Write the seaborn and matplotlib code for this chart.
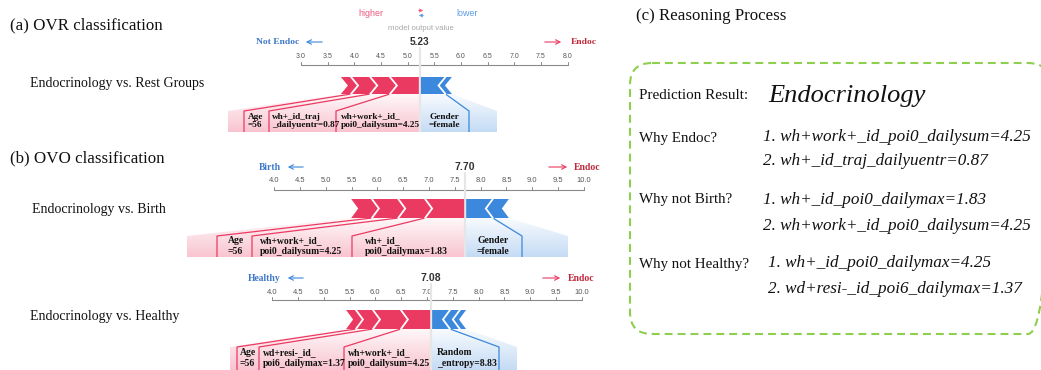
import numpy as np
import matplotlib
matplotlib.use("Agg")
import matplotlib.pyplot as plt
from matplotlib.patches import Polygon, FancyBboxPatch
import seaborn as sns

sns.set_theme(style="white")
SERIF = ["Liberation Serif", "DejaVu Serif"]
SANS = ["Liberation Sans", "DejaVu Sans"]
plt.rcParams["font.family"] = SERIF

# ---------------- force-plot data ----------------
ovr_ticks = [3.0, 3.5, 4.0, 4.5, 5.0, 5.5, 6.0, 6.5, 7.0, 7.5, 8.0]
ovr_output = 5.23
ovr_pos_values = [0.43, 0.37, 0.36, 0.19]
ovr_pos_labels = ["wh+work+_id_\npoi0_dailysum=4.25", "wh+_id_traj\n_dailyuentr=0.87", "Age\n=56", ""]
ovr_neg_values = [0.35, 0.12]
ovr_neg_labels = ["Gender\n=female", ""]

ovo_ticks = [4.0, 4.5, 5.0, 5.5, 6.0, 6.5, 7.0, 7.5, 8.0, 8.5, 9.0, 9.5, 10.0]

birth_output = 7.70
birth_pos_values = [0.64, 0.52, 0.51, 0.40]
birth_pos_labels = ["wh+_id_\npoi0_dailymax=1.83", "wh+work+_id_\npoi0_dailysum=4.25", "Age\n=56", ""]
birth_neg_values = [0.40, 0.31]
birth_neg_labels = ["Gender\n=female", ""]

healthy_output = 7.08
healthy_pos_values = [0.45, 0.54, 0.33, 0.19]
healthy_pos_labels = ["wh+work+_id_\npoi0_dailysum=4.25", "wd+resi-_id_\npoi6_dailymax=1.37", "Age\n=56", ""]
healthy_neg_values = [0.23, 0.19, 0.12]
healthy_neg_labels = ["Random\n_entropy=8.83", "", ""]

# ---------------- reasoning panel text ----------------
prediction = "Endocrinology"
questions = ["Why Endoc?", "Why not Birth?", "Why not Healthy?"]
answers = [
    ["1. wh+work+_id_poi0_dailysum=4.25", "2. wh+_id_traj_dailyuentr=0.87"],
    ["1. wh+_id_poi0_dailymax=1.83", "2. wh+work+_id_poi0_dailysum=4.25"],
    ["1. wh+_id_poi0_dailymax=4.25", "2. wd+resi-_id_poi6_dailymax=1.37"],
]

RED = "#EB3A62"
BLUE = "#3B88DD"
NAME_RED = "#C0283A"
NAME_BLUE = "#3E78C8"

W, H = 1041, 370
fig = plt.figure(figsize=(W / 100, H / 100), dpi=100)

# background canvas in pixel units
bg = fig.add_axes([0, 0, 1, 1])
bg.set_xlim(0, W)
bg.set_ylim(H, 0)
bg.axis("off")


def force_plot(ticks, output, pos_vals, pos_labels, neg_vals, neg_labels, lay):
    top, bottom = lay["rows"]
    L, R = 180, 610
    ax = fig.add_axes([L / W, 1 - bottom / H, (R - L) / W, (bottom - top) / H])
    ax.axis("off")
    p0, p1 = lay["tick_px"]
    ppu = (p1 - p0) / (ticks[-1] - ticks[0])

    def xv(px):
        return ticks[0] + (px - p0) / ppu

    d = 7 / ppu
    gap = 1 / ppu
    btop, bbot = lay["bar"]
    mid = (btop + bbot) / 2
    fs_lab = lay["label_fs"]

    # axis with ticks
    ax.plot([ticks[0], ticks[-1]], [lay["axis_y"]] * 2, color="#8a8a8a", lw=0.8, zorder=2)
    for t in ticks:
        ax.plot([t, t], [lay["axis_y"], lay["axis_y"] - 3], color="#8a8a8a", lw=0.7, zorder=2)
        ax.text(t, lay["tick_y"], f"{t:.1f}", ha="center", va="center", fontsize=lay["tick_fs"],
                color="#555555", family=SANS, zorder=3)

    # output value marker
    ax.plot([output, output], [lay["value_y"] + 6, bottom], color="#e6e6e6", lw=1.6, zorder=4)
    ax.text(output, lay["value_y"], f"{output:.2f}", ha="center", va="center", fontsize=lay["value_fs"],
            fontweight="bold", family=SANS, color="#333333", zorder=5)

    # class names with direction arrows
    ax.text(xv(lay["left_name_px"]), lay["value_y"], lay["left_name"], ha="right", va="center",
            fontsize=lay["name_fs"], fontweight="bold", color=NAME_BLUE, family=SERIF)
    la, lb = lay["left_arrow"]
    ax.annotate("", xy=(xv(la), lay["value_y"]), xytext=(xv(lb), lay["value_y"]),
                arrowprops=dict(arrowstyle="->", color=BLUE, lw=0.8, mutation_scale=8))
    ra, rb = lay["right_arrow"]
    ax.annotate("", xy=(xv(rb), lay["value_y"]), xytext=(xv(ra), lay["value_y"]),
                arrowprops=dict(arrowstyle="->", color=RED, lw=0.8, mutation_scale=8))
    ax.text(xv(lay["right_name_px"]), lay["value_y"], "Endoc", ha="left", va="center",
            fontsize=lay["name_fs"], fontweight="bold", color=NAME_RED, family=SERIF)

    # positive (red) segments, stacked leftwards from the output value
    b = [output] + list(output - np.cumsum(pos_vals))
    # negative (blue) segments, stacked rightwards
    c = [output] + list(output + np.cumsum(neg_vals))

    # gradient shading below the bars
    def shade(poly_pts, color, x0, x1):
        rgb = matplotlib.colors.to_rgb(color)
        n = 64
        img = np.zeros((n, 2, 4))
        img[..., :3] = rgb
        img[..., 3] = np.linspace(0.04, 0.30, n)[:, None]
        patch = Polygon(poly_pts, closed=True, facecolor="none", edgecolor="none")
        ax.add_patch(patch)
        im = ax.imshow(img, extent=(x0, x1, bottom, bbot), origin="upper", aspect="auto",
                       interpolation="bilinear", zorder=1)
        im.set_clip_path(patch)

    lt = lay["label_top"]
    sl, sr = lay["shade"]
    shade([(b[-1] - d, bbot), (output, bbot), (output, bottom), (xv(sl), bottom), (xv(sl), lt)],
          RED, xv(sl), output)
    shade([(output, bbot), (c[-1] + d, bbot), (xv(sr), lt), (xv(sr), bottom), (output, bottom)],
          BLUE, output, xv(sr))

    for i in range(len(pos_vals)):
        xr, xl = b[i], b[i + 1]
        if i == 0:
            right = [(xr - gap, btop), (xr - gap, bbot)]
        else:
            right = [(xr - d, btop), (xr, mid), (xr - d, bbot)]
        pts = [(xl - d, btop)] + right + [(xl - d, bbot), (xl, mid)]
        ax.add_patch(Polygon(pts, closed=True, facecolor=RED, edgecolor="none", zorder=5))
        if i > 0:
            ax.plot([xr - d, xr, xr - d], [btop, mid, bbot], color="white", lw=1.3, zorder=6,
                    solid_joinstyle="miter")

    for j in range(len(neg_vals)):
        xl, xr = c[j], c[j + 1]
        if j == 0:
            left = [(xl + gap, bbot), (xl + gap, btop)]
        else:
            left = [(xl + d, bbot), (xl, mid), (xl + d, btop)]
        pts = left + [(xr + d, btop), (xr, mid), (xr + d, bbot)]
        ax.add_patch(Polygon(pts, closed=True, facecolor=BLUE, edgecolor="none", zorder=5))
        if j > 0:
            ax.plot([xl + d, xl, xl + d], [btop, mid, bbot], color="white", lw=1.3, zorder=6,
                    solid_joinstyle="miter")

    # feature labels with connectors
    for i, lab in enumerate(pos_labels):
        if not lab:
            continue
        lx = xv(lay["pos_line_px"][i])
        ax.plot([b[i + 1] - d, lx, lx], [bbot, lt, bottom + 5], color=RED, lw=0.9, zorder=3)
        ax.text(xv(lay["pos_text_px"][i]), lay["text_y"], lab, ha="left", va="center",
                fontsize=fs_lab, fontweight="bold", color="#111111", family=SERIF,
                linespacing=1.15, zorder=7)
    for j, lab in enumerate(neg_labels):
        if not lab:
            continue
        lx = xv(lay["neg_line_px"][j])
        ax.plot([c[j + 1] + d, lx, lx], [bbot, lt, bottom + 5], color=BLUE, lw=0.9, zorder=3)
        ax.text(xv(lay["neg_text_px"][j]), lay["text_y"], lab, ha="left", va="center",
                fontsize=fs_lab, fontweight="bold", color="#111111", family=SERIF,
                linespacing=1.15, zorder=7)

    if lay.get("header"):
        hx = xv(421)
        ax.text(xv(371), 13, "higher", ha="center", va="center", fontsize=6.4, color="#F0577C", family=SANS)
        ax.text(xv(467), 13, "lower", ha="center", va="center", fontsize=6.4, color="#5A9AE5", family=SANS)
        ax.annotate("", xy=(xv(426), 10.5), xytext=(xv(416), 10.5),
                    arrowprops=dict(arrowstyle="->", color="#F0577C", lw=0.7, mutation_scale=5))
        ax.annotate("", xy=(xv(416), 15.5), xytext=(xv(426), 15.5),
                    arrowprops=dict(arrowstyle="->", color="#5A9AE5", lw=0.7, mutation_scale=5))
        ax.text(hx, 28, "model output value", ha="center", va="center", fontsize=5.6,
                color="#a8a8a8", family=SANS)

    ax.set_xlim(xv(L), xv(R))
    ax.set_ylim(bottom, top)
    return ax


force_plot(ovr_ticks, ovr_output, ovr_pos_values, ovr_pos_labels, ovr_neg_values, ovr_neg_labels,
           dict(rows=(0, 132), tick_px=(301, 567.5), value_y=42, tick_y=56, axis_y=65, bar=(77, 94),
                label_top=111, text_y=121, pos_line_px=[336, 269, 244], pos_text_px=[341, 272, 248],
                neg_line_px=[469], neg_text_px=[429], shade=(228, 497),
                left_name="Not Endoc", left_name_px=299, left_arrow=(303, 325),
                right_arrow=(542, 564), right_name_px=571, header=True,
                tick_fs=5.0, value_fs=7.3, name_fs=6.8, label_fs=6.7))

force_plot(ovo_ticks, birth_output, birth_pos_values, birth_pos_labels, birth_neg_values, birth_neg_labels,
           dict(rows=(140, 257), tick_px=(274, 584), value_y=167, tick_y=181, axis_y=190, bar=(199, 218),
                label_top=236, text_y=246, pos_line_px=[352, 252, 217], pos_text_px=[365, 260, 228],
                neg_line_px=[522], neg_text_px=[477], shade=(187, 568),
                left_name="Birth", left_name_px=281, left_arrow=(285, 306),
                right_arrow=(546, 570), right_name_px=574,
                tick_fs=5.4, value_fs=7.6, name_fs=6.9, label_fs=6.9))

force_plot(ovo_ticks, healthy_output, healthy_pos_values, healthy_pos_labels, healthy_neg_values,
           healthy_neg_labels,
           dict(rows=(262, 370), tick_px=(272, 582), value_y=278, tick_y=292, axis_y=300, bar=(310, 329),
                label_top=347, text_y=358, pos_line_px=[344, 259, 237], pos_text_px=[348, 263, 240],
                neg_line_px=[499], neg_text_px=[437], shade=(230, 517),
                left_name="Healthy", left_name_px=281, left_arrow=(285, 306),
                right_arrow=(540, 563), right_name_px=568,
                tick_fs=5.4, value_fs=7.6, name_fs=6.9, label_fs=6.9))

# ---------------- left titles ----------------
bg.text(10, 29, "(a) OVR classification", fontsize=12.2, va="baseline", family=SERIF, color="#111111")
bg.text(30, 87, "Endocrinology vs. Rest Groups", fontsize=10, va="baseline", family=SERIF, color="#111111")
bg.text(10, 162, "(b) OVO classification", fontsize=12.2, va="baseline", family=SERIF, color="#111111")
bg.text(32, 213, "Endocrinology vs. Birth", fontsize=10, va="baseline", family=SERIF, color="#111111")
bg.text(30, 320, "Endocrinology vs. Healthy", fontsize=10, va="baseline", family=SERIF, color="#111111")

# ---------------- reasoning panel ----------------
bg.text(636, 20, "(c) Reasoning Process", fontsize=12.2, va="baseline", family=SERIF, color="#111111")
box = FancyBboxPatch((630, 63), 420, 271, boxstyle="round,pad=0,rounding_size=22",
                     facecolor="none", edgecolor="#8FCF4F", lw=1.5, linestyle=(0, (3.8, 2.4)))
bg.add_patch(box)
bg.text(639, 99, "Prediction Result:", fontsize=10.9, va="baseline", family=SERIF, color="#111111")
bg.text(768, 102, prediction, fontsize=19, style="italic", va="baseline", family=SERIF, color="#111111")

q_base = [142, 203, 268]
a_base = [(141, 165), (204, 230), (267, 293)]
a_x = [763, 763, 768]
for q, qb, ans, ab, ax_ in zip(questions, q_base, answers, a_base, a_x):
    bg.text(639, qb, q, fontsize=10.8, va="baseline", family=SERIF, color="#111111")
    for a, y in zip(ans, ab):
        bg.text(ax_, y, a, fontsize=12.3, style="italic", va="baseline", family=SERIF, color="#111111")

fig.savefig("out.png", dpi=100, facecolor="white")
